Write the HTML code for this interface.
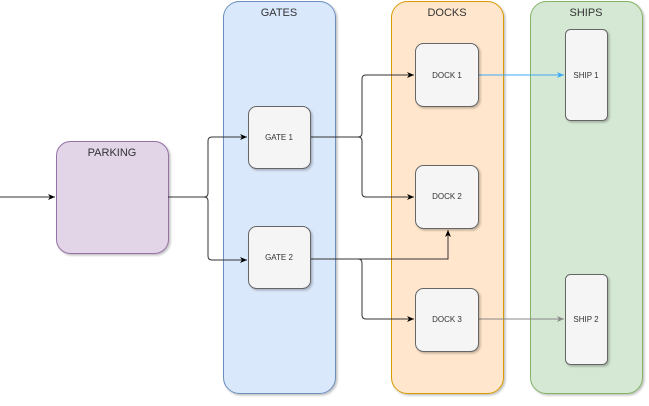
<!DOCTYPE html>
<html><head><style>
body{margin:0;width:649px;height:401px;background:#fff;overflow:hidden;font-family:"Liberation Sans",sans-serif}
</style></head><body>
<svg width="649" height="401" viewBox="0 0 649 401" xmlns="http://www.w3.org/2000/svg" font-family="Liberation Sans, sans-serif">
<defs>
<marker id="a" markerWidth="8" markerHeight="8" refX="7" refY="4" orient="auto" markerUnits="userSpaceOnUse"><path d="M0,1 L7,4 L0,7 L2,4 Z" fill="#000"/></marker>
<marker id="b" markerWidth="8" markerHeight="8" refX="7" refY="4" orient="auto" markerUnits="userSpaceOnUse"><path d="M0,1 L7,4 L0,7 L2,4 Z" fill="#3fa9f5"/></marker>
<marker id="g" markerWidth="8" markerHeight="8" refX="7" refY="4" orient="auto" markerUnits="userSpaceOnUse"><path d="M0,1 L7,4 L0,7 L2,4 Z" fill="#888"/></marker>
<filter id="s"><feDropShadow dx="1.5" dy="1.5" stdDeviation="1" flood-opacity="0.25"/></filter>
</defs>
<rect x="223.5" y="1.5" width="112" height="392" rx="16" fill="#dae8fc" stroke="#6c8ebf" filter="url(#s)"/>
<rect x="391.5" y="1.5" width="112" height="392" rx="16" fill="#ffe6cc" stroke="#d79b00" filter="url(#s)"/>
<rect x="530.5" y="1.5" width="112" height="392" rx="16" fill="#d5e8d4" stroke="#82b366" filter="url(#s)"/>
<text x="279" y="16" font-size="11" text-anchor="middle" fill="#333">GATES</text>
<text x="447" y="16" font-size="11" text-anchor="middle" fill="#333">DOCKS</text>
<text x="586" y="16" font-size="11" text-anchor="middle" fill="#333">SHIPS</text>
<rect x="56.5" y="141.5" width="112" height="112" rx="14" fill="#e1d5e7" stroke="#9673a6" filter="url(#s)"/>
<text x="112" y="156" font-size="11" text-anchor="middle" fill="#333">PARKING</text>
<g fill="none" stroke="#333" stroke-width="1">
<path d="M0,197 H55" marker-end="url(#a)"/>
<path d="M168,197 H204 Q208,197 208,193 V141 Q208,137 212,137 H247" marker-end="url(#a)"/>
<path d="M204,197 Q208,197 208,201 V256 Q208,260 212,260 H247" marker-end="url(#a)"/>
<path d="M310,137 H358 Q362,137 362,133 V79 Q362,75 366,75 H414" marker-end="url(#a)"/>
<path d="M358,137 Q362,137 362,141 V193 Q362,197 366,197 H414" marker-end="url(#a)"/>
<path d="M310,259 H448 V230" marker-end="url(#a)"/>
<path d="M358,259 Q362,259 362,263 V315 Q362,319 366,319 H414" marker-end="url(#a)"/>
</g>
<path d="M478,75 H564" stroke="#3fa9f5" fill="none" marker-end="url(#b)"/>
<path d="M478,319 H564" stroke="#888" fill="none" marker-end="url(#g)"/>
<g fill="#f5f5f5" stroke="#666" filter="url(#s)">
<rect x="248.5" y="106.5" width="62" height="62" rx="8"/>
<rect x="248.5" y="226.5" width="62" height="62" rx="8"/>
<rect x="415.5" y="43.5" width="63" height="63" rx="8"/>
<rect x="415.5" y="165.5" width="63" height="63" rx="8"/>
<rect x="415.5" y="288.5" width="63" height="63" rx="8"/>
<rect x="565.5" y="29.5" width="42" height="91" rx="5"/>
<rect x="565.5" y="274.5" width="42" height="90" rx="5"/>
</g>
<g font-size="8" text-anchor="middle" fill="#333">
<text x="279" y="140">GATE 1</text>
<text x="279" y="260">GATE 2</text>
<text x="447" y="78">DOCK 1</text>
<text x="447" y="199">DOCK 2</text>
<text x="447" y="322">DOCK 3</text>
<text x="586" y="78">SHIP 1</text>
<text x="586" y="322">SHIP 2</text>
</g>
</svg>
</body></html>
